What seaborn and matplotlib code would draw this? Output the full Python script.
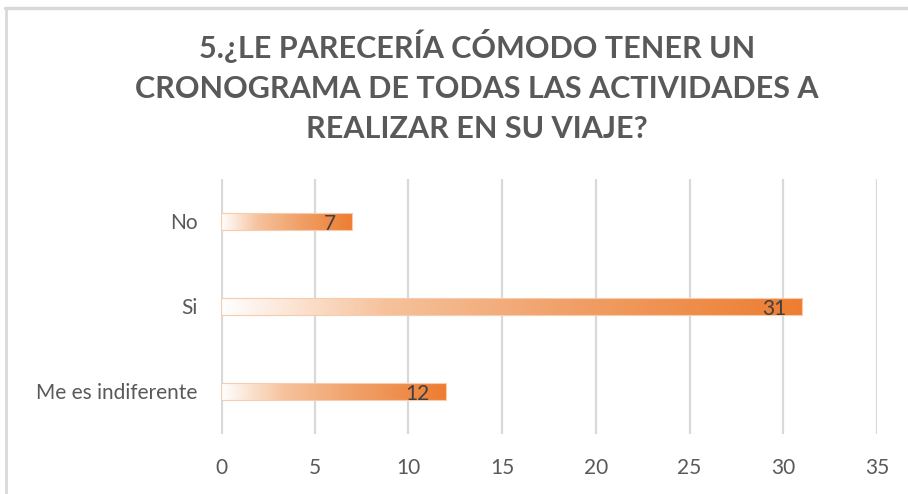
import numpy as np
import matplotlib
matplotlib.use("Agg")
import matplotlib.pyplot as plt
from matplotlib.colors import LinearSegmentedColormap
from matplotlib.lines import Line2D
import seaborn as sns

# Data
categories = ["No", "Si", "Me es indiferente"]
values = [7, 31, 12]
x_ticks = [0, 5, 10, 15, 20, 25, 30, 35]
title = "5.¿LE PARECERÍA CÓMODO TENER UN\nCRONOGRAMA DE TODAS LAS ACTIVIDADES A\nREALIZAR EN SU VIAJE?"

sns.set_theme(style="white")
plt.rcParams['font.family'] = ['Lato', 'DejaVu Sans']

text_gray = "#595959"
grid_gray = "#d9d9d9"
orange = "#ED7D31"

fig = plt.figure(figsize=(9.08, 4.94), dpi=100)
ax = fig.add_axes([0.2434, 0.1215, 0.7225, 0.5162])

sns.barplot(x=values, y=categories, orient="h", ax=ax, width=0.21,
            color=orange, saturation=1)

# gradient fill: white on the left, orange at the bar end
cmap = LinearSegmentedColormap.from_list(
    "grad", [(0.0, "#FFFFFF"), (0.28, "#F6C29C"), (0.6, "#F0A068"), (1.0, orange)])
grad = np.linspace(0, 1, 256).reshape(1, -1)
for patch, val in zip(ax.patches, values):
    x0, y0 = patch.get_x(), patch.get_y()
    w, h = patch.get_width(), patch.get_height()
    im = ax.imshow(grad, cmap=cmap, aspect="auto", extent=[x0, x0 + w, y0 + h, y0],
                   zorder=2, interpolation="bilinear")
    im.set_clip_path(patch)
    patch.set_facecolor("none")
    patch.set_edgecolor("#F8CBAD")
    patch.set_linewidth(0.8)
    patch.set_zorder(3)
    ax.text(x0 + w - 0.85, y0 + h / 2 + 0.03, str(val), ha="right", va="center",
            fontsize=15, color="#404040", zorder=4)

ax.set_xlim(0, 35)
ax.set_ylim(2.5, -0.5)
ax.set_xticks(x_ticks)
ax.set_xticklabels([str(t) for t in x_ticks])
for t in x_ticks:
    ax.axvline(t, color=grid_gray, lw=3 if t == 0 else 1.6, zorder=1)
for s in ax.spines.values():
    s.set_visible(False)
ax.tick_params(axis="both", length=0, colors=text_gray, labelsize=15)
ax.tick_params(axis="x", pad=17)
ax.tick_params(axis="y", pad=17)
ax.set_xlabel("")
ax.set_ylabel("")

fig.text(0.525, 0.942, title, ha="center", va="top", fontsize=22,
         fontweight="bold", color=text_gray, linespacing=1.52)

# outer frame lines (top and left)
fig.add_artist(Line2D([0.006, 1.0], [0.983, 0.983], transform=fig.transFigure,
                      color=grid_gray, lw=2.5))
fig.add_artist(Line2D([0.007, 0.007], [0.0, 0.983], transform=fig.transFigure,
                      color=grid_gray, lw=2))

fig.savefig("out.png", dpi=100, facecolor="white")
